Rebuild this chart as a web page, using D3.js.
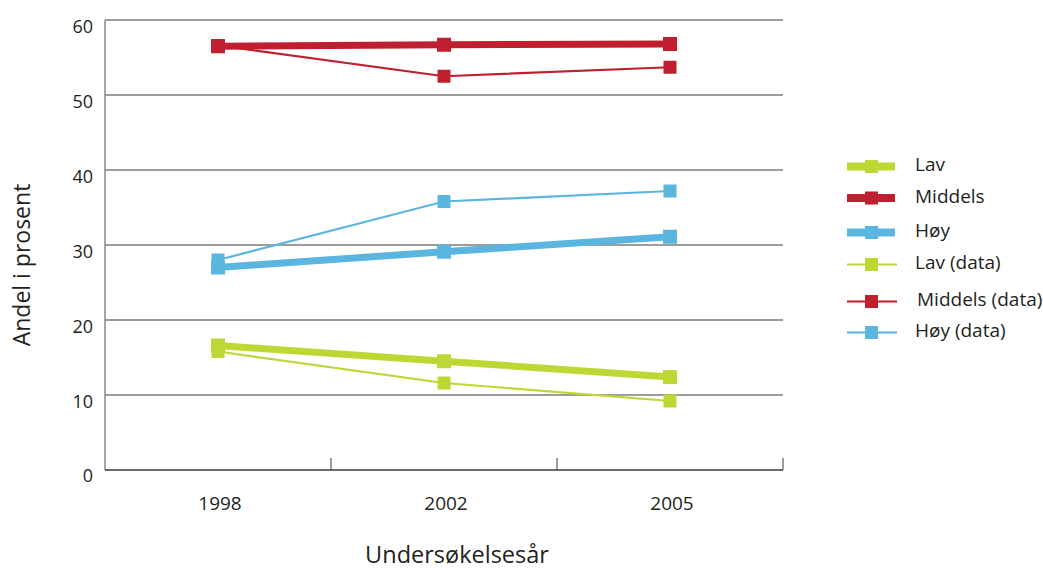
<!DOCTYPE html>
<html>
<head>
<meta charset="utf-8">
<script src="https://cdn.jsdelivr.net/npm/d3@7"></script>
<style>
  html, body { margin: 0; padding: 0; background: #fff; }
  svg { display: block; font-family: "Open Sans", "Noto Sans", sans-serif; }
</style>
</head>
<body>
<svg id="chart" width="1043" height="570"></svg>
<script>
// ---- data ----
const years = ["1998", "2002", "2005"];
const yTicks = [0, 10, 20, 30, 40, 50, 60];
const lavTrend = [16.6, 14.5, 12.4];
const middelsTrend = [56.5, 56.7, 56.8];
const hoyTrend = [27.0, 29.1, 31.1];
const lavData = [15.8, 11.6, 9.2];
const middelsData = [56.6, 52.5, 53.7];
const hoyData = [28.0, 35.8, 37.2];
const legendLabels = ["Lav", "Middels", "Høy", "Lav (data)", "Middels (data)", "Høy (data)"];

(function () {
// ---- build series ----
const colors = { lav: "#bfd734", middels: "#c01f2f", hoy: "#5ab6de" };
const series = [
  { name: legendLabels[0], values: lavTrend, color: colors.lav, thick: true },
  { name: legendLabels[1], values: middelsTrend, color: colors.middels, thick: true },
  { name: legendLabels[2], values: hoyTrend, color: colors.hoy, thick: true },
  { name: legendLabels[3], values: lavData, color: colors.lav, thick: false },
  { name: legendLabels[4], values: middelsData, color: colors.middels, thick: false },
  { name: legendLabels[5], values: hoyData, color: colors.hoy, thick: false }
];

const svg = d3.select("#chart");
const pLeft = 105, pRight = 783, pTop = 20, pBottom = 470;

const x = d3.scaleBand().domain(years).range([pLeft, pRight]).padding(0);
const y = d3.scaleLinear().domain([0, 60]).range([pBottom, pTop]);

// gridlines
svg.append("g").selectAll("line")
  .data(yTicks.filter(d => d > 0))
  .join("line")
  .attr("x1", pLeft).attr("x2", pRight)
  .attr("y1", d => y(d)).attr("y2", d => y(d))
  .attr("stroke", "#3c3c3c").attr("stroke-width", 1.2);

// y axis line
svg.append("line")
  .attr("x1", pLeft).attr("x2", pLeft).attr("y1", pTop).attr("y2", pBottom)
  .attr("stroke", "#8a8a8a").attr("stroke-width", 1.5);

// y tick labels
svg.append("g").selectAll("text")
  .data(yTicks)
  .join("text")
  .attr("x", 93)
  .attr("y", d => y(d) + (d === 0 ? 12 : 13))
  .attr("text-anchor", "end")
  .attr("font-size", 18)
  .attr("fill", "#231f20")
  .text(d => d);

// x axis line + ticks (band boundaries, ticks pointing up)
svg.append("line")
  .attr("x1", pLeft).attr("x2", pRight).attr("y1", pBottom).attr("y2", pBottom)
  .attr("stroke", "#3a3a3a").attr("stroke-width", 1.6);
const boundaries = years.slice(1).map(d => x(d)).concat([pRight]);
svg.append("g").selectAll("line")
  .data(boundaries)
  .join("line")
  .attr("x1", d => d).attr("x2", d => d)
  .attr("y1", pBottom).attr("y2", pBottom - 12)
  .attr("stroke", "#5a5a5a").attr("stroke-width", 1.2);

// x tick labels
svg.append("g").selectAll("text")
  .data(years)
  .join("text")
  .attr("x", d => x(d) + x.bandwidth() / 2 + 2)
  .attr("y", 510)
  .attr("text-anchor", "middle")
  .attr("font-size", 19)
  .attr("fill", "#231f20")
  .text(d => d);

// axis titles
svg.append("text")
  .attr("x", 457).attr("y", 563)
  .attr("text-anchor", "middle")
  .attr("font-size", 23.5)
  .attr("fill", "#231f20")
  .text("Undersøkelsesår");

svg.append("text")
  .attr("transform", "translate(30,265) rotate(-90)")
  .attr("text-anchor", "middle")
  .attr("font-size", 23)
  .attr("fill", "#231f20")
  .text("Andel i prosent");

// lines
const cx = (d, i) => x(years[i]) + x.bandwidth() / 2;
const line = d3.line().x((d, i) => cx(d, i)).y(d => y(d));

const order = [3, 4, 5, 0, 1, 2];
order.forEach(k => {
  const s = series[k];
  const g = svg.append("g");
  g.append("path")
    .attr("d", line(s.values))
    .attr("fill", "none")
    .attr("stroke", s.color)
    .attr("stroke-width", s.thick ? 7 : 2.2);
  const m = s.thick ? 14 : 13;
  g.selectAll("rect")
    .data(s.values)
    .join("rect")
    .attr("x", (d, i) => cx(d, i) - m / 2)
    .attr("y", d => y(d) - m / 2)
    .attr("width", m).attr("height", m)
    .attr("fill", s.color);
});

// legend
const legendY = [166.5, 198, 232.5, 264.5, 301.5, 332.5];
const leg = svg.append("g");
series.forEach((s, i) => {
  const ly = legendY[i];
  leg.append("line")
    .attr("x1", 847).attr("x2", s.thick ? 895 : 897)
    .attr("y1", ly).attr("y2", ly)
    .attr("stroke", s.color)
    .attr("stroke-width", s.thick ? 8 : 2);
  leg.append("rect")
    .attr("x", 865).attr("y", ly - 6.5)
    .attr("width", 13).attr("height", 13)
    .attr("fill", s.color);
  leg.append("text")
    .attr("x", i === 4 ? 917 : 915)
    .attr("y", ly + 4.5)
    .attr("font-size", 19)
    .attr("fill", "#231f20")
    .text(s.name);
});
})();
</script>
</body>
</html>
